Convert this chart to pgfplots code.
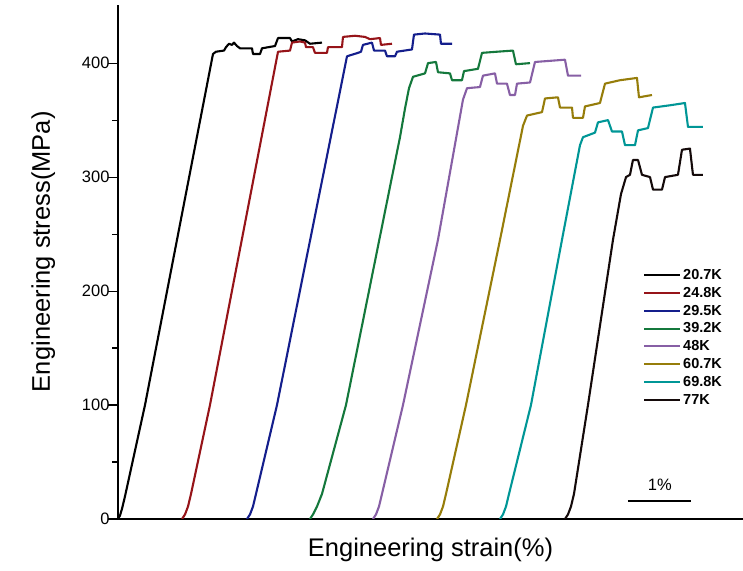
\documentclass[border=0pt]{standalone}
\usepackage{fontspec}
\setmainfont{Liberation Sans}
\usepackage{pgfplots}
\pgfplotsset{compat=1.18}

\definecolor{c207}{RGB}{0,0,0}
\definecolor{c248}{RGB}{150,20,25}
\definecolor{c295}{RGB}{20,30,140}
\definecolor{c392}{RGB}{20,120,60}
\definecolor{c48}{RGB}{135,95,165}
\definecolor{c607}{RGB}{150,125,10}
\definecolor{c698}{RGB}{0,150,150}
\definecolor{c77}{RGB}{20,10,10}

\begin{document}
\begin{tikzpicture}
\begin{axis}[
  scale only axis,
  width=625pt, height=514pt,
  xmin=0, xmax=10.417,
  ymin=0, ymax=451,
  axis lines=left,
  axis line style={-, line width=1.2pt},
  xtick=\empty,
  ytick={0,100,200,300,400},
  minor y tick num=1,
  tick align=outside,
  major tick length=10pt,
  minor tick length=6pt,
  every tick/.style={black, line width=1.1pt},
  /pgf/number format/assume math mode=true,
  yticklabel style={font=\fontsize{16.5}{16.5}\selectfont, xshift=5pt},
  xlabel={Engineering strain(\%)},
  ylabel={Engineering stress(MPa)},
  label style={font=\fontsize{25.5}{25.5}\selectfont},
  xlabel style={yshift=-5pt},
  ylabel style={yshift=20pt, at={(ticklabel cs:0.52)}},
  every axis plot/.append style={line width=2.1pt, line join=round},
  legend cell align=left,
  legend image code/.code={\draw[#1, line width=2.1pt] (0pt,0pt) -- (36pt,0pt);},
  legend style={draw=none, fill=none, at={(0.835,0.494)}, anchor=north west,
    font=\bfseries\fontsize{14.5}{14.5}\selectfont, row sep=2.2pt,
    /tikz/every even column/.append style={column sep=0pt}},
]
% 20.7 K
\addplot[c207] coordinates {(0,0)(0.033,3)(0.067,9)(0.117,20)(0.45,100)(1.583,408)(1.633,410)(1.767,411)(1.8,414)(1.85,417)(1.9,416)(1.933,418)(1.983,415)(2.033,413)(2.233,413)(2.25,408)(2.367,408)(2.4,413)(2.617,415)(2.667,422)(2.867,422)(2.9,419)(3.0,421)(3.117,420)(3.2,417)(3.4,418)};
\addlegendentry{20.7K}
% 24.8 K
\addplot[c248] coordinates {(1.067,0)(1.117,4)(1.167,11)(1.217,22)(1.533,100)(2.667,410)(2.867,411)(2.9,418)(3.033,419)(3.117,418)(3.133,414)(3.25,414)(3.283,409)(3.483,409)(3.5,414)(3.733,414)(3.75,423)(3.95,424)(4.117,423)(4.2,421)(4.367,422)(4.383,416)(4.567,417)};
\addlegendentry{24.8K}
% 29.5 K
\addplot[c295] coordinates {(2.15,0)(2.2,4)(2.25,11)(2.3,22)(2.65,100)(3.817,406)(4.0,409)(4.05,410)(4.083,416)(4.233,418)(4.267,411)(4.45,411)(4.483,406)(4.617,406)(4.65,410)(4.9,412)(4.933,425)(5.117,426)(5.367,425)(5.383,417)(5.567,417)};
\addlegendentry{29.5K}
% 39.2 K
\addplot[c392] coordinates {(3.2,0)(3.25,4)(3.317,11)(3.4,22)(3.8,100)(4.7,335)(4.783,360)(4.85,378)(4.917,388)(5.117,391)(5.167,400)(5.3,401)(5.333,392)(5.533,391)(5.567,385)(5.733,385)(5.767,393)(6.0,395)(6.067,409)(6.317,410)(6.583,411)(6.633,399)(6.867,400)};
\addlegendentry{39.2K}
% 48 K
\addplot[c48] coordinates {(4.25,0)(4.3,4)(4.35,11)(4.4,22)(4.75,100)(5.333,245)(5.75,368)(5.817,378)(6.033,379)(6.083,389)(6.283,391)(6.317,382)(6.483,382)(6.533,372)(6.617,372)(6.65,382)(6.867,383)(6.95,401)(7.2,402)(7.45,403)(7.5,389)(7.717,389)};
\addlegendentry{48K}
% 60.7 K
\addplot[c607] coordinates {(5.317,0)(5.367,4)(5.417,11)(5.467,22)(5.8,100)(6.367,245)(6.75,345)(6.817,354)(7.067,357)(7.117,369)(7.333,370)(7.367,361)(7.567,361)(7.583,352)(7.75,352)(7.783,362)(8.033,365)(8.117,382)(8.367,385)(8.65,387)(8.683,370)(8.9,372)};
\addlegendentry{60.7K}
% 69.8 K
\addplot[c698] coordinates {(6.367,0)(6.417,4)(6.467,11)(6.517,22)(6.883,100)(7.4,245)(7.7,328)(7.75,335)(7.95,339)(8.0,348)(8.167,350)(8.233,340)(8.4,340)(8.45,328)(8.617,328)(8.667,341)(8.833,343)(8.917,361)(9.2,363)(9.45,365)(9.5,344)(9.75,344)};
\addlegendentry{69.8K}
% 77 K
\addplot[c77] coordinates {(7.45,0)(7.5,4)(7.55,11)(7.6,22)(7.833,100)(8.25,245)(8.383,285)(8.467,300)(8.533,302)(8.583,315)(8.667,315)(8.733,302)(8.867,300)(8.917,289)(9.067,289)(9.117,300)(9.333,302)(9.4,324)(9.533,325)(9.583,302)(9.75,302)};
\addlegendentry{77K}
% scale bar
\draw[line width=1.8pt] (axis cs:8.5,16) -- (axis cs:9.55,16);
\node[font=\fontsize{16.5}{16.5}\selectfont] at (axis cs:9.03,30) {1\%};
\end{axis}
\pgfresetboundingbox
\path[use as bounding box] ([xshift=-118pt,yshift=-52pt]current axis.south west) rectangle ([yshift=5pt]current axis.north east);
\end{tikzpicture}
\end{document}
